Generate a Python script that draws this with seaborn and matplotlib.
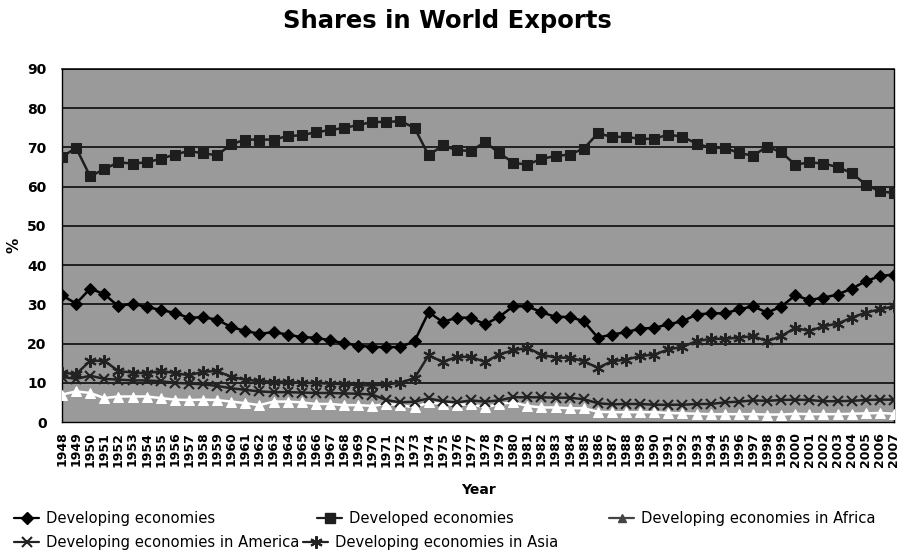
import matplotlib
matplotlib.use('Agg')
import matplotlib.pyplot as plt
from matplotlib.lines import Line2D
import seaborn as sns

# 数据
years = list(range(1948, 2008))
developing = [32.3, 30.2, 34.0, 32.6, 29.5, 30.2, 29.3, 28.6, 27.8, 26.6,
              26.7, 26.1, 24.2, 23.2, 22.5, 22.9, 22.3, 21.6, 21.5, 20.8,
              20.1, 19.5, 19.1, 19.1, 19.1, 20.6, 28.0, 25.5, 26.6, 26.6,
              24.9, 26.8, 29.5, 29.5, 28.0, 26.8, 26.8, 25.7, 21.5, 22.3,
              22.9, 23.8, 24.0, 24.9, 25.7, 27.4, 27.7, 27.7, 28.7, 29.5,
              27.9, 29.4, 32.3, 31.1, 31.7, 32.5, 34.0, 35.9, 37.2, 37.6]
developed = [67.6, 69.9, 62.6, 64.5, 66.2, 65.9, 66.2, 67.1, 68.2, 69.1,
             68.5, 68.0, 70.8, 72.0, 72.0, 72.0, 72.9, 73.1, 73.9, 74.4,
             75.0, 75.7, 76.5, 76.5, 76.7, 75.0, 68.0, 70.5, 69.3, 69.1,
             71.4, 68.6, 66.1, 65.6, 67.1, 67.8, 68.2, 69.7, 73.6, 72.7,
             72.7, 72.2, 72.2, 73.3, 72.7, 71.0, 69.9, 69.9, 68.6, 67.9,
             70.2, 68.8, 65.6, 66.2, 65.9, 65.0, 63.5, 60.5, 58.8, 58.4]
africa = [7.0, 7.8, 7.4, 6.1, 6.5, 6.5, 6.5, 6.1, 5.7, 5.6,
          5.7, 5.6, 5.2, 4.8, 4.3, 5.2, 5.2, 5.0, 4.6, 4.6,
          4.3, 4.3, 4.1, 4.6, 4.3, 3.7, 5.0, 4.6, 4.3, 4.6,
          3.7, 4.6, 5.0, 4.1, 3.7, 3.7, 3.5, 3.5, 2.6, 2.5,
          2.5, 2.5, 2.5, 2.3, 2.2, 2.1, 2.0, 2.0, 2.0, 2.0,
          1.9, 1.9, 2.1, 2.0, 2.0, 2.0, 2.1, 2.2, 2.3, 2.1]
america = [11.5, 11.0, 11.8, 11.0, 10.8, 10.6, 10.6, 10.4, 10.0, 9.8,
           9.6, 9.2, 8.6, 8.2, 7.8, 7.6, 7.6, 7.5, 7.4, 7.4,
           7.3, 7.2, 7.0, 5.6, 5.0, 5.2, 6.0, 5.3, 5.0, 5.5,
           5.2, 5.5, 6.3, 6.3, 6.3, 6.2, 6.2, 5.8, 4.8, 4.5,
           4.6, 4.6, 4.4, 4.4, 4.4, 4.6, 4.6, 5.0, 5.2, 5.5,
           5.4, 5.6, 5.7, 5.6, 5.3, 5.3, 5.4, 5.6, 5.7, 5.7]
asia = [12.6, 12.2, 15.6, 15.6, 13.0, 12.6, 12.4, 13.0, 12.5, 11.9,
        12.8, 13.0, 11.5, 10.8, 10.4, 10.3, 10.2, 10.0, 9.9, 9.8,
        9.6, 9.4, 9.3, 9.6, 10.0, 11.2, 17.0, 15.3, 16.6, 16.6,
        15.3, 17.2, 18.3, 18.9, 17.2, 16.4, 16.4, 15.5, 13.8, 15.5,
        15.9, 16.8, 17.2, 18.5, 19.2, 20.6, 21.2, 21.2, 21.5, 21.9,
        20.6, 21.9, 24.0, 23.2, 24.4, 25.1, 26.6, 27.9, 28.7, 29.5]
y_ticks = [0, 10, 20, 30, 40, 50, 60, 70, 80, 90]

sns.set_style('white')
plt.rcParams['font.family'] = ['DejaVu Sans']
plt.rcParams['text.color'] = 'black'
plt.rcParams['axes.labelcolor'] = 'black'
plt.rcParams['xtick.color'] = 'black'
plt.rcParams['ytick.color'] = 'black'

fig = plt.figure(figsize=(9.08, 5.59), dpi=100)
ax = fig.add_axes([62 / 908, 1 - 422 / 559, 832 / 908, 353 / 559])
ax.set_facecolor('#9a9a9a')

# 网格线
for v in y_ticks[1:]:
    ax.axhline(v, color='black', lw=1.1, zorder=1)

asterisk = (6, 2, 0)
styles = [
    ('Developing economies', developing, dict(marker='D', color='black', markersize=6.5,
                                               markerfacecolor='black', markeredgecolor='black')),
    ('Developed economies', developed, dict(marker='s', color='#1e1e1e', markersize=7.5,
                                             markerfacecolor='#1e1e1e', markeredgecolor='#1e1e1e')),
    ('Developing economies in Africa', africa, dict(marker='^', color='white', markersize=7,
                                                      markerfacecolor='white', markeredgecolor='white')),
    ('Developing economies in America', america, dict(marker='x', color='#222222', markersize=7,
                                                        markeredgewidth=1.5, markeredgecolor='#222222')),
    ('Developing economies in Asia', asia, dict(marker=asterisk, color='#222222', markersize=9,
                                                  markeredgewidth=1.5, markeredgecolor='#222222')),
]
for name, vals, kw in styles:
    sns.lineplot(x=years, y=vals, ax=ax, linewidth=1.8, zorder=3, legend=False, **kw)

ax.set_xlim(years[0], years[-1])
ax.set_ylim(0, 90)
ax.set_yticks(y_ticks)
ax.set_yticklabels([str(v) for v in y_ticks], fontsize=10, fontweight='bold')
ax.set_xticks(years)
ax.set_xticklabels([str(y) for y in years], rotation=90, fontsize=9, fontweight='bold')
ax.tick_params(axis='both', direction='out', length=5, width=1, color='black', pad=2)
ax.tick_params(axis='y', pad=6)
for s in ax.spines.values():
    s.set_color('black')
    s.set_linewidth(1)
    s.set_visible(True)
ax.spines['top'].set_linewidth(1.1)

ax.set_xlabel('Year', fontsize=10, fontweight='bold', labelpad=12)
ax.set_ylabel('%', fontsize=11, fontweight='bold', labelpad=4)
fig.text(0.493, 1 - 21 / 559, 'Shares in World Exports', ha='center', va='center',
         fontsize=17.5, fontweight='bold', color='black')

# 图例（逐项定位）
legend_pos = [(14, 511), (317, 511), (609, 511), (14, 535), (303, 535)]
legend_kw = [
    dict(marker='D', color='black', markersize=6),
    dict(marker='s', color='#1e1e1e', markersize=7),
    dict(marker='^', color='#444444', markersize=6),
    dict(marker='x', color='#222222', markersize=7, markeredgewidth=1.5),
    dict(marker=asterisk, color='#222222', markersize=9, markeredgewidth=1.5),
]
for (name, _, _), (px, py), kw in zip(styles, legend_pos, legend_kw):
    h = Line2D([0], [0], linewidth=1.6, **kw)
    leg = fig.legend(handles=[h], labels=[name], loc='upper left',
                     bbox_to_anchor=(px / 908, 1 - py / 559), frameon=False,
                     handlelength=1.7, handletextpad=0.5, borderpad=0, borderaxespad=0,
                     prop={'family': 'DejaVu Sans', 'size': 10.6})
    for t in leg.get_texts():
        t.set_color('black')

fig.savefig('out.png', dpi=100)
